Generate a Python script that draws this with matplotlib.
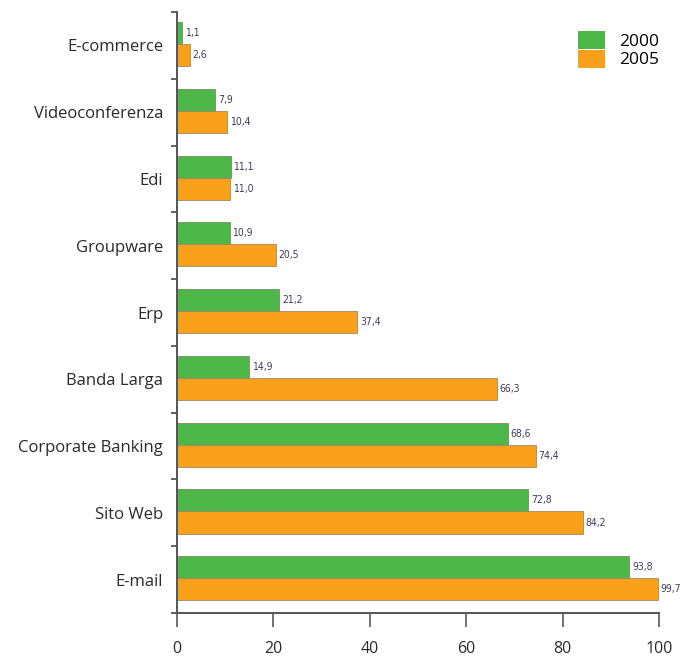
import numpy as np
import matplotlib
matplotlib.use("Agg")
import matplotlib.pyplot as plt
from matplotlib.patches import Patch

plt.rcParams['font.family'] = ['Open Sans', 'DejaVu Sans']

categorie = ['E-mail', 'Sito Web', 'Corporate Banking', 'Banda Larga', 'Erp',
             'Groupware', 'Edi', 'Videoconferenza', 'E-commerce']
valori_2000 = [93.8, 72.8, 68.6, 14.9, 21.2, 10.9, 11.1, 7.9, 1.1]
valori_2005 = [99.7, 84.2, 74.4, 66.3, 37.4, 20.5, 11.0, 10.4, 2.6]
anni = ['2000', '2005']

verde = '#4db848'
arancio = '#f9a11b'

fig = plt.figure(figsize=(6.85, 6.6), dpi=100)
ax = fig.add_axes([177/685, 1 - 613/660, (659 - 177)/685, 601/660])

y = np.arange(len(categorie))
h = 0.33
off = 0.02
b1 = ax.barh(y + h/2 + off, valori_2000, height=h, color=verde,
             edgecolor='#7a8a6a', linewidth=0.6)
b2 = ax.barh(y - h/2 + off, valori_2005, height=h, color=arancio,
             edgecolor='#9a8a6a', linewidth=0.6)

def fmt(v):
    return f'{v:.1f}'.replace('.', ',')

for bars, vals in ((b1, valori_2000), (b2, valori_2005)):
    for b, v in zip(bars, vals):
        ax.text(v + 0.6, b.get_y() + b.get_height()/2, fmt(v),
                va='center', ha='left', fontsize=7.5, color='#3c3c5c',
                family=['Liberation Sans Narrow', 'DejaVu Sans'],
                fontstretch='condensed')

ax.set_xlim(0, 100)
ax.set_ylim(-0.5, len(categorie) - 0.5)
ax.set_yticks(y)
ax.set_yticklabels(categorie, fontsize=12, color='#2a2a2a')
ax.tick_params(axis='y', which='major', length=0, pad=10)
ax.set_yticks(np.arange(-0.5, len(categorie)), minor=True)
ax.tick_params(axis='y', which='minor', length=4, direction='out',
               width=1.3, color='#555555')
ax.set_xticks([0, 20, 40, 60, 80, 100])
ax.tick_params(axis='x', labelsize=11.5, length=10, direction='out',
               width=1.3, color='#666666', labelcolor='#2a2a2a', pad=10)

for s in ('top', 'right'):
    ax.spines[s].set_visible(False)
for s in ('left', 'bottom'):
    ax.spines[s].set_color('#555555')
    ax.spines[s].set_linewidth(1.4)

handles = [Patch(facecolor=verde, edgecolor='none'),
           Patch(facecolor=arancio, edgecolor='none')]
ax.legend(handles, anni, loc='upper right', bbox_to_anchor=(1.015, 0.98),
          frameon=False, fontsize=12.5, handlelength=1.6, handleheight=1.2,
          labelspacing=0, handletextpad=0.8, borderaxespad=0)

fig.savefig('out.png', dpi=100)
